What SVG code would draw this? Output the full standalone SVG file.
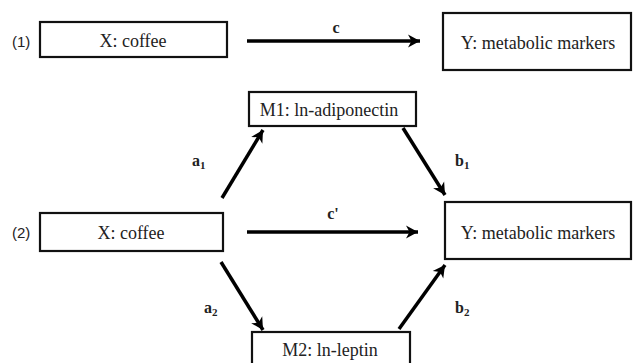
<svg xmlns="http://www.w3.org/2000/svg" width="633" height="363" viewBox="0 0 633 363">
<defs>
<style>
.box{fill:#fff;stroke:#111;stroke-width:2.2}
.t{font-family:"Liberation Serif","Times New Roman",serif;font-size:18px;fill:#222;text-anchor:middle}
.n{font-family:"Liberation Sans",Arial,sans-serif;font-size:15px;fill:#222}
.lb{font-family:"Liberation Serif","Times New Roman",serif;font-size:16px;font-weight:bold;fill:#222}
.sub{font-size:11px}
.arr{stroke:#000;stroke-width:3.5;fill:none;marker-end:url(#ah)}
</style>
<marker id="ah" markerUnits="userSpaceOnUse" markerWidth="16" markerHeight="16" viewBox="0 0 16 16" refX="14" refY="8" orient="auto">
<path d="M2,1.5 L14,8 L2,14.5 L5.5,8 Z" fill="#000"/>
</marker>
</defs>
<rect width="633" height="363" fill="#fff"/>
<g id="connectors">
<line class="arr" x1="247" y1="41" x2="420" y2="41"/>
<line class="arr" x1="247" y1="232" x2="418" y2="232"/>
<line class="arr" x1="222" y1="198" x2="263" y2="130"/>
<line class="arr" x1="403" y1="128" x2="445" y2="195"/>
<line class="arr" x1="221" y1="262" x2="263" y2="330"/>
<line class="arr" x1="399" y1="329" x2="445" y2="265"/>
<text class="lb" x="336" y="33" text-anchor="middle">c</text>
<text class="lb" x="333" y="219" text-anchor="middle">c'</text>
<text class="lb" x="192" y="166">a<tspan class="sub" dy="3">1</tspan></text>
<text class="lb" x="455" y="166">b<tspan class="sub" dy="3">1</tspan></text>
<text class="lb" x="204" y="313">a<tspan class="sub" dy="3">2</tspan></text>
<text class="lb" x="455" y="313">b<tspan class="sub" dy="3">2</tspan></text>
</g>
<g id="label1"><text class="n" x="12" y="47">(1)</text></g>
<g id="label2"><text class="n" x="12" y="238">(2)</text></g>
<g id="x1"><rect class="box" x="40" y="22" width="187" height="35"/><text class="t" x="133" y="47">X: coffee</text></g>
<g id="y1"><rect class="box" x="443" y="13" width="188" height="57"/><text class="t" x="538" y="49">Y: metabolic markers</text></g>
<g id="m1"><rect class="box" x="249" y="92" width="167" height="34"/><text class="t" x="329" y="116">M1: ln-adiponectin</text></g>
<g id="x2"><rect class="box" x="40" y="213" width="183" height="38"/><text class="t" x="131" y="239">X: coffee</text></g>
<g id="y2"><rect class="box" x="445" y="202" width="186" height="57"/><text class="t" x="538" y="239">Y: metabolic markers</text></g>
<g id="m2"><rect class="box" x="252" y="332" width="158" height="36"/><text class="t" x="330" y="356">M2: ln-leptin</text></g>
</svg>
